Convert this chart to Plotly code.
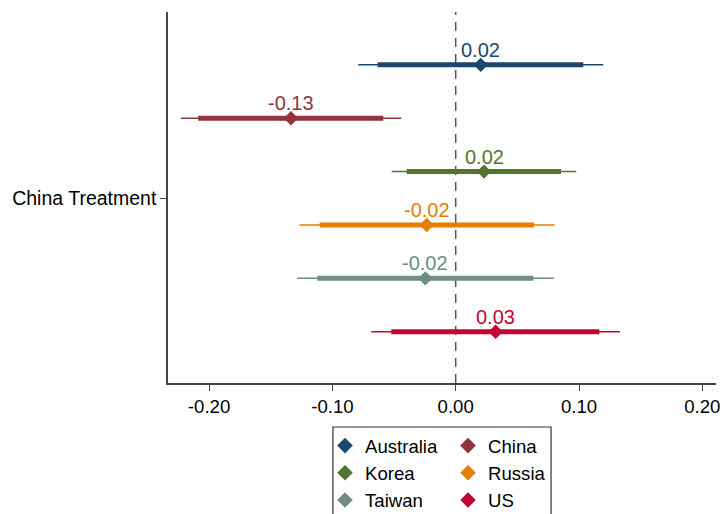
import plotly.graph_objects as go

countries = ["Australia", "China", "Korea", "Russia", "Taiwan", "US"]
colors = ["#1a476f", "#90353b", "#55752f", "#e37e00", "#6e8e84", "#c10534"]
positions = [6, 5, 4, 3, 2, 1]
estimates = [0.0203, -0.1336, 0.0230, -0.0235, -0.0246, 0.0324]
ci95_low = [-0.0790, -0.2229, -0.0519, -0.1268, -0.1287, -0.0684]
ci95_high = [0.1197, -0.0441, 0.0978, 0.0803, 0.0797, 0.1333]
ci90_low = [-0.0633, -0.2088, -0.0397, -0.1103, -0.1122, -0.0522]
ci90_high = [0.1035, -0.0587, 0.0854, 0.0635, 0.0630, 0.1165]
x_ticks = [-0.2, -0.1, 0.0, 0.1, 0.2]
x_ticklabels = ["-0.20", "-0.10", "0.00", "0.10", "0.20"]
y_tick = [3.5]
y_ticklabel = ["China Treatment"]

FONT = "Liberation Sans, Arial, sans-serif"
FS = 18.6
AXC = "#444444"

fig = go.Figure()

# zero reference line
fig.add_vline(x=0, line=dict(color="#555555", width=1.5, dash="9px,7px"), layer="below")

for i, c in enumerate(countries):
    col = colors[i]
    y = positions[i]
    fig.add_trace(go.Scatter(x=[ci95_low[i], ci95_high[i]], y=[y, y], mode="lines",
                             line=dict(color=col, width=1.5), showlegend=False, hoverinfo="skip"))
    fig.add_trace(go.Scatter(x=[ci90_low[i], ci90_high[i]], y=[y, y], mode="lines",
                             line=dict(color=col, width=5), showlegend=False, hoverinfo="skip"))
    fig.add_trace(go.Scatter(x=[estimates[i]], y=[y], mode="markers", name=c,
                             marker=dict(symbol="diamond", size=11, color=col),
                             legend="legend" if i % 2 == 0 else "legend2"))
    fig.add_annotation(x=estimates[i], y=y, text=f"{estimates[i]:.2f}", showarrow=False,
                       yshift=15, yanchor="middle", xanchor="center",
                       font=dict(family=FONT, size=20, color=col))

# legend frame
fig.add_shape(type="rect", xref="paper", yref="paper", x0=0.301, x1=0.699, y0=-0.1186, y1=-0.42,
              line=dict(color="#333333", width=1.2), fillcolor="rgba(0,0,0,0)")

legend_common = dict(font=dict(family=FONT, size=FS, color="#000000"), bgcolor="rgba(0,0,0,0)",
                     borderwidth=0, orientation="v", yanchor="top", xanchor="left",
                     tracegroupgap=0, itemsizing="constant")

fig.update_layout(
    width=727, height=514,
    margin=dict(l=168, r=11, t=12, b=131, autoexpand=False),
    plot_bgcolor="white", paper_bgcolor="white",
    font=dict(family=FONT, size=FS, color="#000000"),
    legend=dict(x=0.2865, y=-0.1186, **legend_common),
    legend2=dict(x=0.511, y=-0.1186, **legend_common),
    xaxis=dict(range=[-0.2333, 0.2111], tickvals=x_ticks, ticktext=x_ticklabels,
               showgrid=False, zeroline=False, showline=True, linecolor=AXC, linewidth=1.5,
               ticks="outside", ticklen=6, tickcolor=AXC, tickwidth=1.2,
               tickfont=dict(family=FONT, size=FS, color="#000000")),
    yaxis=dict(range=[0.04, 6.99], tickvals=y_tick, ticktext=y_ticklabel,
               showgrid=False, zeroline=False, showline=True, linecolor=AXC, linewidth=1.5,
               ticks="outside", ticklen=6, tickcolor=AXC, tickwidth=1.2,
               tickfont=dict(family=FONT, size=19.5, color="#000000")),
)

fig.write_html("out.html", config={"displayModeBar": False},
               post_script="document.body.style.margin='0';document.body.style.overflow='hidden';")
